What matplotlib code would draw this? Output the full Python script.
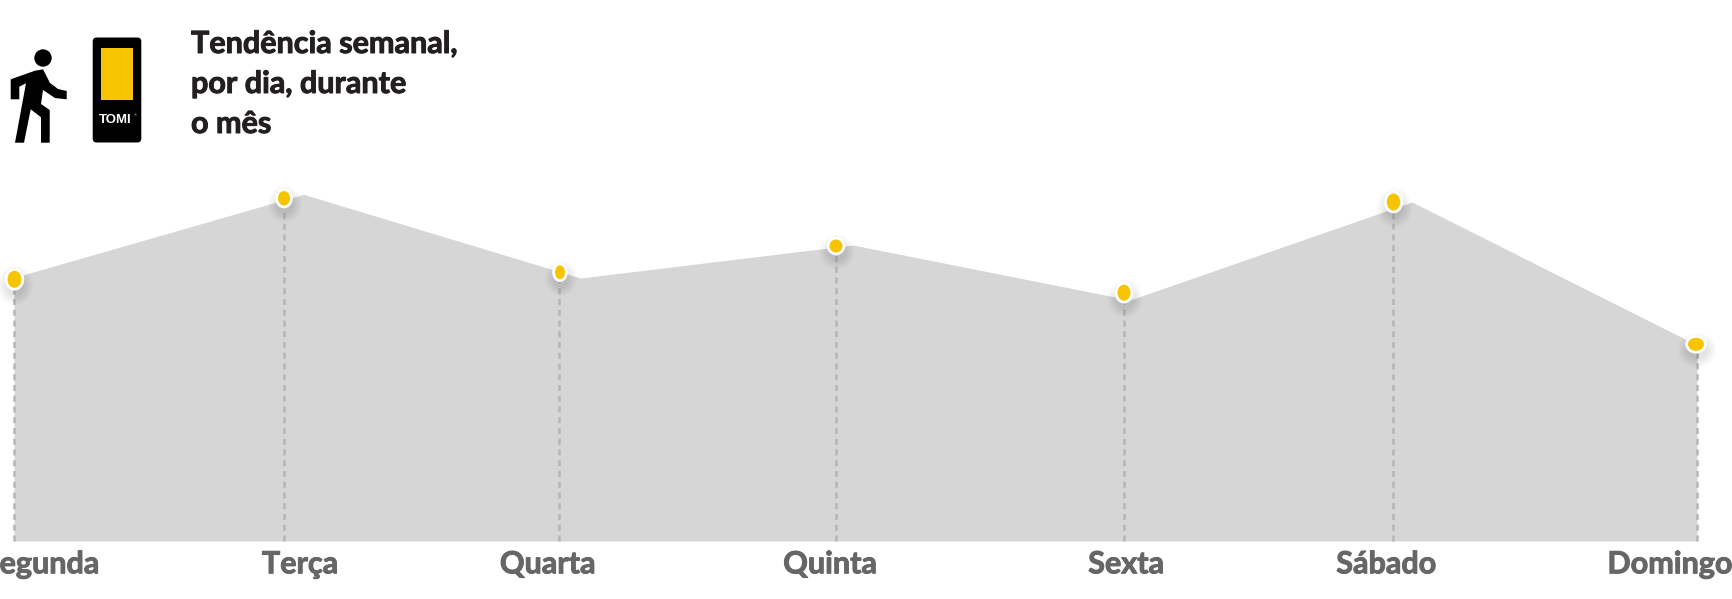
import matplotlib
matplotlib.use('Agg')
import matplotlib.pyplot as plt
import matplotlib.patheffects as pe
from matplotlib.patches import Ellipse, Polygon, Circle, FancyBboxPatch, Rectangle

days = ['Segunda', 'Terça', 'Quarta', 'Quinta', 'Sexta', 'Sábado', 'Domingo']
area_x = [14, 303.5, 580.5, 853, 1130, 1412, 1697]
area_h = [263.5, 346.7, 263, 296, 241, 339, 196]
# the dots sit a bit to the left of the area's corners in the original
dot_x = [14.5, 284, 560, 836, 1124, 1393.5, 1696]
dot_h = [261.7, 342.7, 268.7, 295, 248.3, 339, 196.7]
dot_w = [14, 12, 10, 13, 13, 13.5, 16]
dot_ht = [17, 14.5, 14, 13, 16, 17, 13]
dash_x = [14.5, 284, 558.7, 836, 1124, 1393.5, 1697.5]
label_x = [41, 300, 547.5, 830, 1126, 1386, 1670]
title_lines = ['Tendência semanal,', 'por dia, durante', 'o mês']

W, H = 1733, 599
BASE = 541

fig = plt.figure(figsize=(W / 100, H / 100), dpi=100)
ax = fig.add_axes([0, 0, 1, 1])
ax.set_xlim(0, W)
ax.set_ylim(H - BASE, -BASE)   # 0 = baseline, up is negative
ax.axis('off')

ax.fill_between(area_x, 0, [-h for h in area_h], color='#d6d6d6', lw=0, zorder=1)

for x, h in zip(dash_x, dot_h):
    ax.plot([x, x], [0, -h], color='#b6b6b6', lw=1.8, dashes=(2.4, 1.9), zorder=2)

# soft shadow + white ring + yellow dot
for x, h, w, ht in zip(dot_x, dot_h, dot_w, dot_ht):
    for grow in range(22, 1, -3):
        ax.add_patch(Ellipse((x + 1, -h + 6), w + grow, ht + grow, color='k', alpha=0.016, lw=0, zorder=3))
    ax.add_patch(Ellipse((x, -h), w + 5.5, ht + 5.5, color='white', lw=0, zorder=4))
    ax.add_patch(Ellipse((x, -h), w, ht, color='#f6c400', lw=0, zorder=5))

for name, x in zip(days, label_x):
    ax.text(x, 32.3, name, ha='center', va='baseline', fontsize=22, fontweight='bold',
            family='Lato', color='#666666', zorder=6,
            path_effects=[pe.withStroke(linewidth=0.7, foreground='#666666')])

for i, line in enumerate(title_lines):
    ax.text(191, 53 + i * 40 - BASE, line, ha='left', va='baseline', fontsize=22,
            fontweight='bold', family='Lato', color='#231f20', zorder=6,
            path_effects=[pe.withStroke(linewidth=0.7, foreground='#231f20')])

# little walking person (icon, in px from top of picture)
def px(pts):
    return [(a, b - BASE) for a, b in pts]

ax.add_patch(Circle((43, 58 - BASE), 8.7, color='k', lw=0))
ax.add_patch(Polygon(px([(10.7, 79.3), (35, 70.7), (43, 69.3), (50, 83), (58, 89), (66.7, 91),
                         (66.7, 99.3), (55, 98), (43, 90), (41, 104), (49.7, 110), (49.7, 142.7),
                         (41, 142.7), (41, 117.3), (30.7, 109.3), (24, 142.7), (15, 142.7),
                         (26, 83.3), (19.3, 86.7), (19.3, 99.3), (10.7, 99.3)]),
                     color='k', lw=0))

# TOMI device icon
ax.add_patch(FancyBboxPatch((92.7, 37.5 - BASE), 48.6, 105, boxstyle='round,pad=0,rounding_size=4', color='k', lw=0))
ax.add_patch(Rectangle((100.7, 48.3 - BASE), 32.6, 51.4, color='#f6c400', lw=0))
ax.text(115.3, 122.7 - BASE, 'TOMI', ha='center', va='baseline', fontsize=9.5, fontweight='bold',
        family='Liberation Sans', color='white')
ax.text(133.5, 115 - BASE, '®', ha='left', va='center', fontsize=3,
        family='Liberation Sans', color='#cccccc')

fig.savefig('out.png', dpi=100, facecolor='white')
